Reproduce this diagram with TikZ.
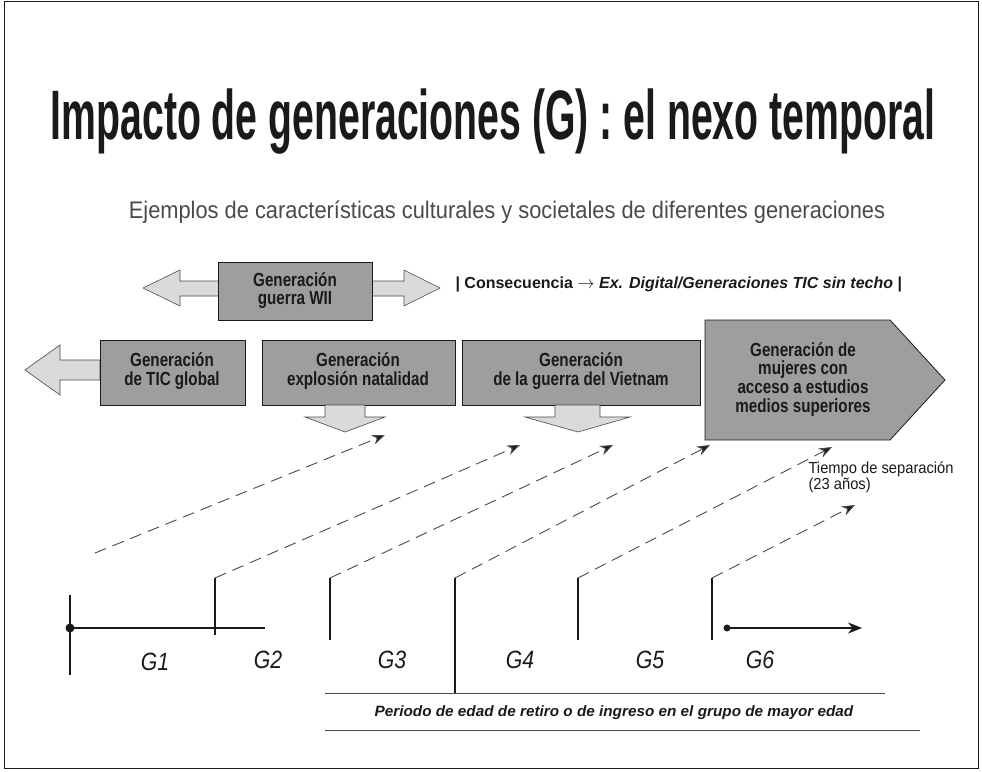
\documentclass[tikz,border=0pt]{standalone}
\usepackage{fontspec}
\setmainfont{Liberation Sans}
\usepackage{graphicx}
\usepackage{xcolor}
\usetikzlibrary{arrows.meta}
\definecolor{slideink}{HTML}{1A1A1A}
\definecolor{slidegray}{HTML}{9E9E9E}
\definecolor{slidelight}{HTML}{DADADA}
\definecolor{slidemuted}{HTML}{4A4A4A}
\newcommand{\narrowtext}[2][0.8]{\scalebox{#1}[1]{\begin{tabular}{@{}c@{}}#2\end{tabular}}}
\renewcommand{\arraystretch}{0.85}

\begin{document}
\begin{tikzpicture}[
  x=1pt,
  y=-1pt,
  >={Stealth[length=13pt, width=10pt]},
  genbox/.style={fill=slidegray, draw=slideink, line width=0.8pt},
  blockarrow/.style={fill=slidelight, draw=slidemuted, line width=0.6pt},
  boxtext/.style={slideink, font=\bfseries\fontsize{19}{20}\selectfont},
  link/.style={slidemuted, line width=0.9pt, dash pattern=on 12pt off 7pt, -{Stealth[length=13pt, width=10pt, fill=slideink]}},
  tick/.style={slideink, line width=1.1pt},
  glabel/.style={slideink, font=\itshape\fontsize{25}{27}\selectfont}
]
  \useasboundingbox (0,0) rectangle (982,771);
  \draw[slideink, line width=0.8pt] (4,1) rectangle (978,768);

  % ---- title and subtitle ------------------------------------------------
  \node[slideink] (title) at (493,122)
    {\scalebox{0.56}[1]{\fontsize{70}{80}\selectfont\bfseries Impacto de generaciones (G) : el nexo temporal}};
  \node[slidemuted] (subtitle) at (507,212)
    {\scalebox{0.91}[1]{\fontsize{24}{26}\selectfont Ejemplos de características culturales y societales de diferentes generaciones}};

  % ---- war generation with its double arrow -----------------------------
  \draw[blockarrow] (143,288) -- (180,270) -- (180,281) -- (404,281) -- (404,270)
    -- (440,288) -- (404,306) -- (404,296) -- (180,296) -- (180,306) -- cycle;
  \draw[genbox] (218,262) rectangle (372,320);
  \node[boxtext] (war) at (295,291) {\narrowtext{Generación\\guerra WII}};

  \node[slideink, anchor=west] (effect) at (452,284)
    {\fontsize{16}{17}\selectfont\bfseries | Consecuencia $\rightarrow$ \itshape Ex. Digital/Generaciones TIC sin techo \upshape|};

  % ---- generation band --------------------------------------------------
  \draw[blockarrow] (25,370) -- (60,345) -- (60,360) -- (100,360) -- (100,380)
    -- (60,380) -- (60,395) -- cycle;

  \draw[genbox] (100,340) rectangle (245,405);
  \node[boxtext] (tic) at (172,372) {\narrowtext{Generación\\de TIC global}};

  \draw[genbox] (262,340) rectangle (455,405);
  \node[boxtext] (baby) at (358,372) {\narrowtext{Generación\\explosión natalidad}};

  \draw[genbox] (462,340) rectangle (700,405);
  \node[boxtext] (vietnam) at (581,372) {\narrowtext{Generación\\de la guerra del Vietnam}};

  \draw[genbox] (705,320) -- (890,320) -- (945,380) -- (890,440) -- (705,440) -- cycle;
  \node[boxtext] (women) at (803,380)
    {\narrowtext{Generación de\\mujeres con\\acceso a estudios\\medios superiores}};

  \draw[blockarrow] (325,405) -- (365,405) -- (365,417) -- (385,417) -- (345,432)
    -- (305,417) -- (325,417) -- cycle;
  \draw[blockarrow] (555,405) -- (600,405) -- (600,417) -- (630,417) -- (578,432)
    -- (525,417) -- (555,417) -- cycle;

  % ---- time axis ---------------------------------------------------------
  \coordinate (g1top) at (70,595);
  \coordinate (g1bot) at (70,675);
  \coordinate (g2top) at (215,578);
  \coordinate (g2bot) at (215,635);
  \coordinate (g3top) at (330,578);
  \coordinate (g3bot) at (330,640);
  \coordinate (g4top) at (455,578);
  \coordinate (g4bot) at (455,693);
  \coordinate (g5top) at (578,578);
  \coordinate (g5bot) at (578,640);
  \coordinate (g6top) at (712,578);
  \coordinate (g6bot) at (712,640);
  \coordinate (axisend) at (265,628);
  \coordinate (runstart) at (727,628);
  \coordinate (runend) at (862,628);

  \draw[tick] (g1top) -- (g1bot);
  \fill[slideink] (70,628) circle (4.5pt);
  \draw[tick, line width=1.6pt] (70,628) -- (axisend);
  \draw[tick] (g2top) -- (g2bot);
  \draw[tick] (g3top) -- (g3bot);
  \draw[tick] (g4top) -- (g4bot);
  \draw[tick] (g5top) -- (g5bot);
  \draw[tick] (g6top) -- (g6bot);
  \fill[slideink] (runstart) circle (3.5pt);
  \draw[tick, line width=1.6pt, -{Stealth[length=14pt, width=11pt]}] (runstart) -- (runend);

  \node[glabel] (G1) at (155,662) {\scalebox{0.85}[1]{G1}};
  \node[glabel] (G2) at (268,660) {\scalebox{0.85}[1]{G2}};
  \node[glabel] (G3) at (392,660) {\scalebox{0.85}[1]{G3}};
  \node[glabel] (G4) at (520,660) {\scalebox{0.85}[1]{G4}};
  \node[glabel] (G5) at (650,660) {\scalebox{0.85}[1]{G5}};
  \node[glabel] (G6) at (760,660) {\scalebox{0.85}[1]{G6}};

  % ---- links from each generation up to the band ------------------------
  \coordinate (l1start) at (95,553);
  \coordinate (l1end) at (385,435);
  \coordinate (l2end) at (520,445);
  \coordinate (l3end) at (613,445);
  \coordinate (l4end) at (710,445);
  \coordinate (l5end) at (832,447);
  \coordinate (l6end) at (855,505);

  \draw[link] (l1start) -- (l1end);
  \draw[link] (g2top) -- (l2end);
  \draw[link] (g3top) -- (l3end);
  \draw[link] (g4top) -- (l4end);
  \draw[link] (g5top) -- (l5end);
  \draw[link] (g6top) -- (l6end);

  \node[slideink, anchor=west, align=left] (gap) at (805,478)
    {\scalebox{0.92}[1]{\fontsize{16}{17}\selectfont\begin{tabular}{@{}l@{}}Tiempo de separación\\(23 años)\end{tabular}}};

  % ---- retirement period -------------------------------------------------
  \draw[slidemuted, line width=1pt] (325,693) -- (885,693);
  \draw[slidemuted, line width=1pt] (325,730) -- (920,730);
  \node[slideink] (retire) at (614,713)
    {\scalebox{1.02}[1]{\fontsize{15}{16}\selectfont\bfseries\itshape Periodo de edad de retiro o de ingreso en el grupo de mayor edad}};
\end{tikzpicture}
\end{document}
